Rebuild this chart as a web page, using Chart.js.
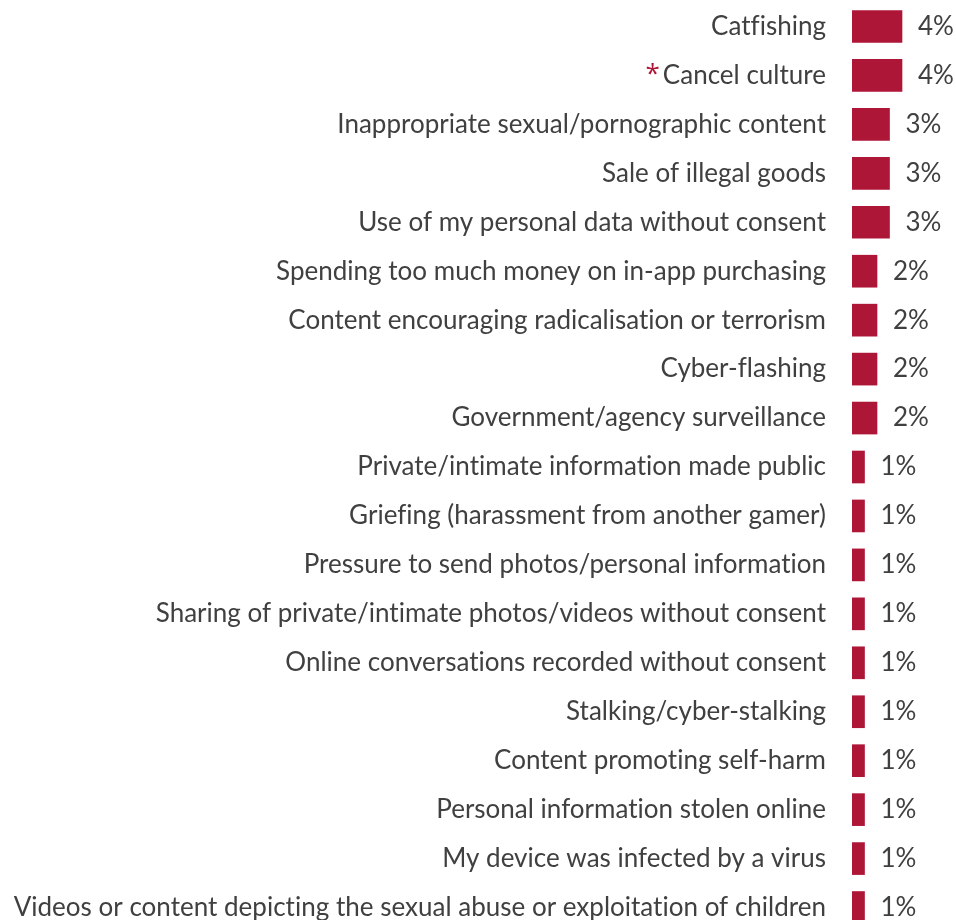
<!DOCTYPE html>
<html>
<head>
<meta charset="utf-8">
<script src="https://cdn.jsdelivr.net/npm/chart.js@4"></script>
<style>
  html, body { margin: 0; padding: 0; background: #fff; overflow: hidden; }
  #wrap { position: relative; width: 956px; height: 934px; }
</style>
</head>
<body>
<div id="wrap"><canvas id="myChart"></canvas></div>
<script>
const categories = [
    "Catfishing",
    "Cancel culture",
    "Inappropriate sexual/pornographic content",
    "Sale of illegal goods",
    "Use of my personal data without consent",
    "Spending too much money on in-app purchasing",
    "Content encouraging radicalisation or terrorism",
    "Cyber-flashing",
    "Government/agency surveillance",
    "Private/intimate information made public",
    "Griefing (harassment from another gamer)",
    "Pressure to send photos/personal information",
    "Sharing of private/intimate photos/videos without consent",
    "Online conversations recorded without consent",
    "Stalking/cyber-stalking",
    "Content promoting self-harm",
    "Personal information stolen online",
    "My device was infected by a virus",
    "Videos or content depicting the sexual abuse or exploitation of children"
]
const values = [4, 4, 3, 3, 3, 2, 2, 2, 2, 1, 1, 1, 1, 1, 1, 1, 1, 1, 1]
const valueLabels = values.map(v => v + "%")
const starred = ["Cancel culture"]

const FAMILY = "Lato"
const SIZE = 26
const FONT = SIZE + "px " + FAMILY
const TEXT = "#404040"
const BAR = "#AE1638"
const LABEL_GAP = 26

// a tiny letter spacing keeps "fi"/"fl" from turning into ligatures
const noLigaturesPlugin = {
    id: "noLigatures",
    beforeDraw(chart) {
        chart.ctx.letterSpacing = "0.01px"
    }
}

// value text to the right of each bar
const valueLabelPlugin = {
    id: "valueLabels",
    afterDatasetsDraw(chart) {
        const ctx = chart.ctx
        const meta = chart.getDatasetMeta(0)
        ctx.save()
        ctx.font = FONT
        ctx.fillStyle = TEXT
        ctx.textAlign = "left"
        ctx.textBaseline = "middle"
        meta.data.forEach((bar, i) => {
            ctx.fillText(valueLabels[i], bar.x + 16, bar.y)
        })
        ctx.restore()
    }
}

// red asterisk in front of flagged categories
const asteriskPlugin = {
    id: "asterisk",
    afterDraw(chart) {
        const ctx = chart.ctx
        const yScale = chart.scales.y
        ctx.save()
        starred.forEach(name => {
            const i = categories.indexOf(name)
            if (i < 0) return
            const y = yScale.getPixelForValue(i)
            ctx.font = FONT
            const w = ctx.measureText(name).width
            ctx.font = "26px 'Open Sans'"
            ctx.fillStyle = BAR
            ctx.textAlign = "right"
            ctx.textBaseline = "alphabetic"
            ctx.fillText("*", yScale.right - LABEL_GAP - w - 3, y + 7)
        })
        ctx.restore()
    }
}

const ctx = document.querySelector("#myChart").getContext("2d")

new Chart(ctx, {
    type: "bar",
    data: {
        labels: categories,
        datasets: [
            {
                data: values,
                backgroundColor: BAR,
                barThickness: 32,
            },
        ],
    },
    options: {
        indexAxis: "y",
        responsive: true,
        maintainAspectRatio: false,
        animation: false,
        layout: {
            autoPadding: false,
            padding: { top: 2, bottom: 2, left: 0, right: 4 }
        },
        plugins: {
            legend: { display: false },
            tooltip: { enabled: false },
        },
        scales: {
            x: {
                display: false,
                min: 0,
                max: 8,
            },
            y: {
                border: { display: false },
                grid: { display: false, drawTicks: false },
                ticks: {
                    color: TEXT,
                    font: { family: FAMILY, size: SIZE },
                    padding: LABEL_GAP,
                    autoSkip: false,
                },
                afterFit(scale) {
                    scale.width = 852
                    scale.paddingTop = 0
                    scale.paddingBottom = 0
                },
            },
        },
    },
    plugins: [noLigaturesPlugin, valueLabelPlugin, asteriskPlugin],
})
</script>
</body>
</html>
